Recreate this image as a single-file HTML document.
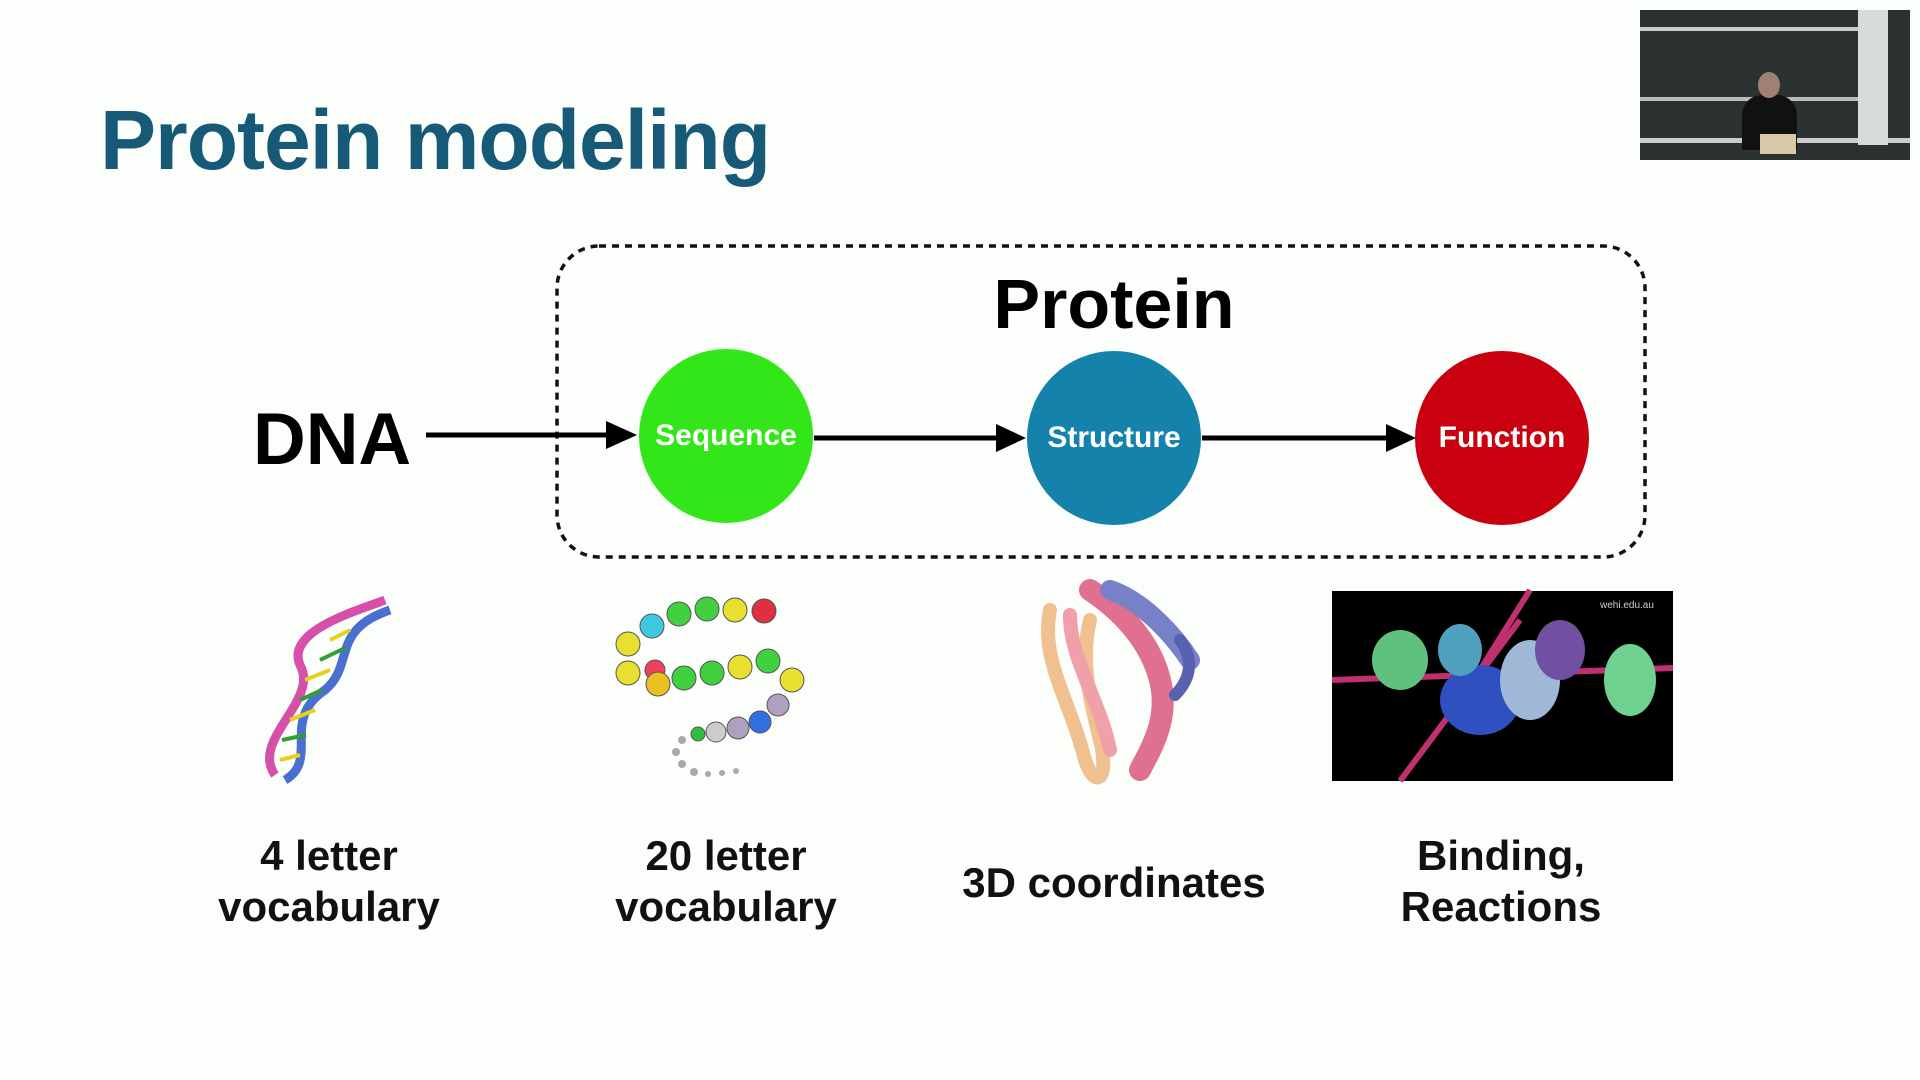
<!DOCTYPE html>
<html><head><meta charset="utf-8"><style>
html,body{margin:0;padding:0}
body{width:1920px;height:1080px;background:#fcfefc;position:relative;overflow:hidden;font-family:"Liberation Sans",Arial,sans-serif}
.t{position:absolute;font-weight:bold;white-space:nowrap}
.c{position:absolute;border-radius:50%;color:#fff;font-weight:bold;font-size:30px;display:flex;align-items:center;justify-content:center}
.lab{position:absolute;font-weight:bold;font-size:42px;text-align:center;line-height:51px;width:400px;color:#111}
</style></head><body>
<div class="t" style="left:100px;top:92px;font-size:84px;color:#175a78;letter-spacing:-1px">Protein modeling</div>
<div style="position:absolute;left:1640px;top:10px;width:270px;height:150px;background:#2c3232">
 <div style="position:absolute;left:0;top:17px;width:220px;height:4px;background:#ccc"></div>
 <div style="position:absolute;left:0;top:87px;width:220px;height:4px;background:#bbb"></div>
 <div style="position:absolute;left:0;top:128px;width:270px;height:5px;background:#ccc"></div>
 <div style="position:absolute;left:218px;top:0;width:30px;height:135px;background:#d8dcd8"></div>
 <div style="position:absolute;left:102px;top:85px;width:55px;height:55px;background:#111;border-radius:20px 20px 0 0"></div>
 <div style="position:absolute;left:118px;top:62px;width:22px;height:26px;background:#a08070;border-radius:50%"></div>
 <div style="position:absolute;left:120px;top:124px;width:36px;height:20px;background:#d8c8a8"></div>
</div>
<svg style="position:absolute;left:0;top:0" width="1920" height="1080">
 <rect x="557" y="246" width="1088" height="311" rx="42" fill="none" stroke="#111" stroke-width="3.5" stroke-dasharray="7,6"/>
 <g stroke="#000" stroke-width="5">
  <line x1="426" y1="435" x2="610" y2="435"/><path d="M606,421 L637,435 L606,449z" fill="#000" stroke="none"/>
  <line x1="814" y1="438" x2="1000" y2="438"/><path d="M996,424 L1026,438 L996,452z" fill="#000" stroke="none"/>
  <line x1="1202" y1="438" x2="1390" y2="438"/><path d="M1386,424 L1416,438 L1386,452z" fill="#000" stroke="none"/>
 </g>
 <g fill="none" stroke-width="9">
  <path d="M275,775 C250,740 320,700 300,665 C285,630 360,610 385,600" stroke="#d64fa8"/>
  <path d="M285,780 C320,760 280,720 325,690 C355,665 330,630 390,610" stroke="#4a6fd0"/>
  <g stroke="#e8d020" stroke-width="4"><line x1="280" y1="760" x2="300" y2="755"/><line x1="290" y1="720" x2="315" y2="710"/><line x1="305" y1="680" x2="330" y2="670"/><line x1="330" y1="640" x2="350" y2="630"/></g>
  <g stroke="#30a030" stroke-width="4"><line x1="282" y1="740" x2="306" y2="735"/><line x1="300" y1="700" x2="322" y2="690"/><line x1="320" y1="660" x2="345" y2="648"/></g>
 </g>
 <g stroke="#555" stroke-width="1">
  <circle cx="628" cy="644" r="12" fill="#e8e030"/><circle cx="652" cy="626" r="12" fill="#40c8e0"/><circle cx="679" cy="614" r="12" fill="#40d040"/><circle cx="707" cy="609" r="12" fill="#40d040"/><circle cx="735" cy="610" r="12" fill="#e8e030"/><circle cx="764" cy="611" r="12" fill="#e03040"/>
  <circle cx="628" cy="673" r="12" fill="#e8e030"/><circle cx="655" cy="670" r="10" fill="#f04060"/><circle cx="658" cy="684" r="12" fill="#e8c020"/><circle cx="684" cy="678" r="12" fill="#40d040"/><circle cx="712" cy="673" r="12" fill="#40d040"/><circle cx="740" cy="667" r="12" fill="#e8e030"/><circle cx="768" cy="661" r="12" fill="#40d040"/><circle cx="792" cy="680" r="12" fill="#e8e030"/>
  <circle cx="778" cy="705" r="11" fill="#b0a0c0"/><circle cx="760" cy="722" r="11" fill="#3070e0"/><circle cx="738" cy="728" r="11" fill="#b0a0c0"/><circle cx="716" cy="732" r="10" fill="#ccc"/><circle cx="698" cy="734" r="7" fill="#30c040"/>
 </g>
 <g fill="#aaa"><circle cx="682" cy="740" r="4"/><circle cx="676" cy="752" r="4"/><circle cx="682" cy="764" r="4"/><circle cx="694" cy="772" r="4"/><circle cx="708" cy="774" r="3"/><circle cx="722" cy="773" r="3"/><circle cx="736" cy="771" r="3"/></g>
 <g fill="none" stroke-linecap="round">
  <path d="M1050,610 C1040,660 1070,700 1085,760 C1095,790 1110,780 1100,740 C1090,700 1080,660 1090,620" stroke="#f0c090" stroke-width="14"/>
  <path d="M1070,615 C1070,660 1100,700 1110,750" stroke="#f0a0a8" stroke-width="14"/>
  <path d="M1090,590 C1120,610 1150,640 1160,680 C1170,720 1150,750 1140,770" stroke="#e07090" stroke-width="22"/>
  <path d="M1110,590 C1140,600 1170,630 1190,660" stroke="#7880c8" stroke-width="20"/>
  <path d="M1180,640 C1195,660 1190,680 1175,695" stroke="#5860b0" stroke-width="12"/>
 </g>
 <rect x="1332" y="591" width="341" height="190" fill="#000"/>
 <g stroke="#c03070" stroke-width="6"><line x1="1332" y1="680" x2="1673" y2="668"/><line x1="1400" y1="781" x2="1520" y2="620"/><line x1="1530" y1="590" x2="1480" y2="670"/></g>
 <g><ellipse cx="1400" cy="660" rx="28" ry="30" fill="#60c080"/><ellipse cx="1630" cy="680" rx="26" ry="36" fill="#70d090"/><ellipse cx="1480" cy="700" rx="40" ry="35" fill="#3050c0"/><ellipse cx="1530" cy="680" rx="30" ry="40" fill="#a0b8d8"/><ellipse cx="1560" cy="650" rx="25" ry="30" fill="#7050a0"/><ellipse cx="1460" cy="650" rx="22" ry="26" fill="#50a0c0"/></g>
 <text x="1600" y="608" font-size="10" fill="#ccc" font-family="Liberation Sans">wehi.edu.au</text>
</svg>
<div class="t" style="left:0;width:2228px;text-align:center;top:264px;font-size:70px;color:#000">Protein</div>
<div class="t" style="left:253px;top:398px;font-size:73px;color:#000">DNA</div>
<div class="c" style="left:639px;top:349px;width:174px;height:174px;background:#33e619">Sequence</div>
<div class="c" style="left:1027px;top:351px;width:174px;height:174px;background:#1482aa">Structure</div>
<div class="c" style="left:1415px;top:351px;width:174px;height:174px;background:#c80010">Function</div>
<div class="lab" style="left:129px;top:830px">4 letter<br>vocabulary</div>
<div class="lab" style="left:526px;top:830px">20 letter<br>vocabulary</div>
<div class="lab" style="left:914px;top:857px">3D coordinates</div>
<div class="lab" style="left:1301px;top:830px">Binding,<br>Reactions</div>
</body></html>
